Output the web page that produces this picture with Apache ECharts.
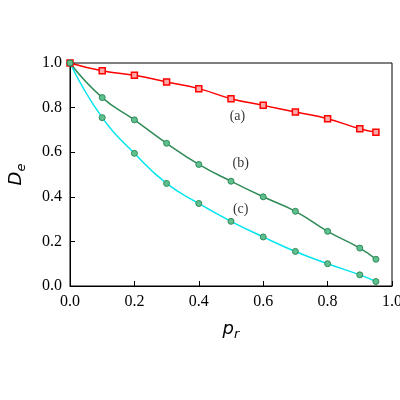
<!DOCTYPE html><html><head><meta charset="utf-8">
<script src="https://cdn.jsdelivr.net/npm/echarts@6/dist/echarts.min.js"></script>
<style>body{margin:0}#c{width:400px;height:400px}</style></head><body><div id="c"></div><script>
const xs=[0,0.1,0.2,0.3,0.4,0.5,0.6,0.7,0.8,0.9,0.95];
const a=[1.0,0.965,0.945,0.915,0.885,0.84,0.81,0.78,0.75,0.705,0.69];
const b=[1.0,0.845,0.745,0.64,0.545,0.47,0.40,0.335,0.245,0.17,0.12];
const c=[1.0,0.755,0.595,0.46,0.37,0.29,0.22,0.155,0.10,0.05,0.02];
const labels=[['(a)',0.52,0.76],['(b)',0.53,0.55],['(c)',0.53,0.345]];
const ch=echarts.init(document.getElementById('c'));
const pts=v=>xs.map((x,i)=>[x,v[i]]);
const rich={i:{fontFamily:'DejaVu Sans',fontStyle:'italic',fontSize:18,color:'#000'},s:{fontFamily:'DejaVu Sans',fontStyle:'italic',fontSize:13,color:'#000',padding:[10,0,0,0]}};
const ax={axisLine:{lineStyle:{color:'#000',width:1}},axisTick:{inside:true,length:5,lineStyle:{color:'#000'}},
 axisLabel:{color:'#000',fontFamily:'Liberation Serif',fontSize:16,formatter:v=>v.toFixed(1)},splitLine:{show:false}};
ch.setOption({animation:false,
 grid:{left:70,right:8,top:63,bottom:114,show:true,borderColor:'#000',borderWidth:1,containLabel:false,outerBoundsMode:'none'},
 xAxis:Object.assign({type:'value',min:0,max:1,interval:0.2,name:'{i|p}{s|r}',nameLocation:'middle',nameGap:32,nameTextStyle:{rich}},ax),
 yAxis:Object.assign({type:'value',min:0,max:1,interval:0.2,name:'{i|D}{s|e}',nameLocation:'middle',nameGap:42,nameTextStyle:{rich}},ax),
 series:[
  {type:'line',data:pts(a),smooth:true,symbol:'rect',symbolSize:6,lineStyle:{color:'#ff0000',width:1.5},itemStyle:{color:'#ffaaaa',borderColor:'#ff0000',borderWidth:1.5}},
  {type:'line',data:pts(b),smooth:true,symbol:'circle',symbolSize:6,lineStyle:{color:'#2e8b57',width:1.5},itemStyle:{color:'#5fbf8f',borderColor:'#2e8b57',borderWidth:1}},
  {type:'line',data:pts(c),smooth:true,symbol:'circle',symbolSize:6,lineStyle:{color:'#00e5ee',width:1.5},itemStyle:{color:'#5fbf8f',borderColor:'#2e8b57',borderWidth:1}},
  {type:'scatter',data:labels.map(l=>[l[1],l[2],l[0]]),symbolSize:0,silent:true,
   label:{show:true,formatter:p=>p.data[2],position:'inside',fontFamily:'Liberation Serif',fontSize:14,color:'#000'}}
 ]});
</script></body></html>
